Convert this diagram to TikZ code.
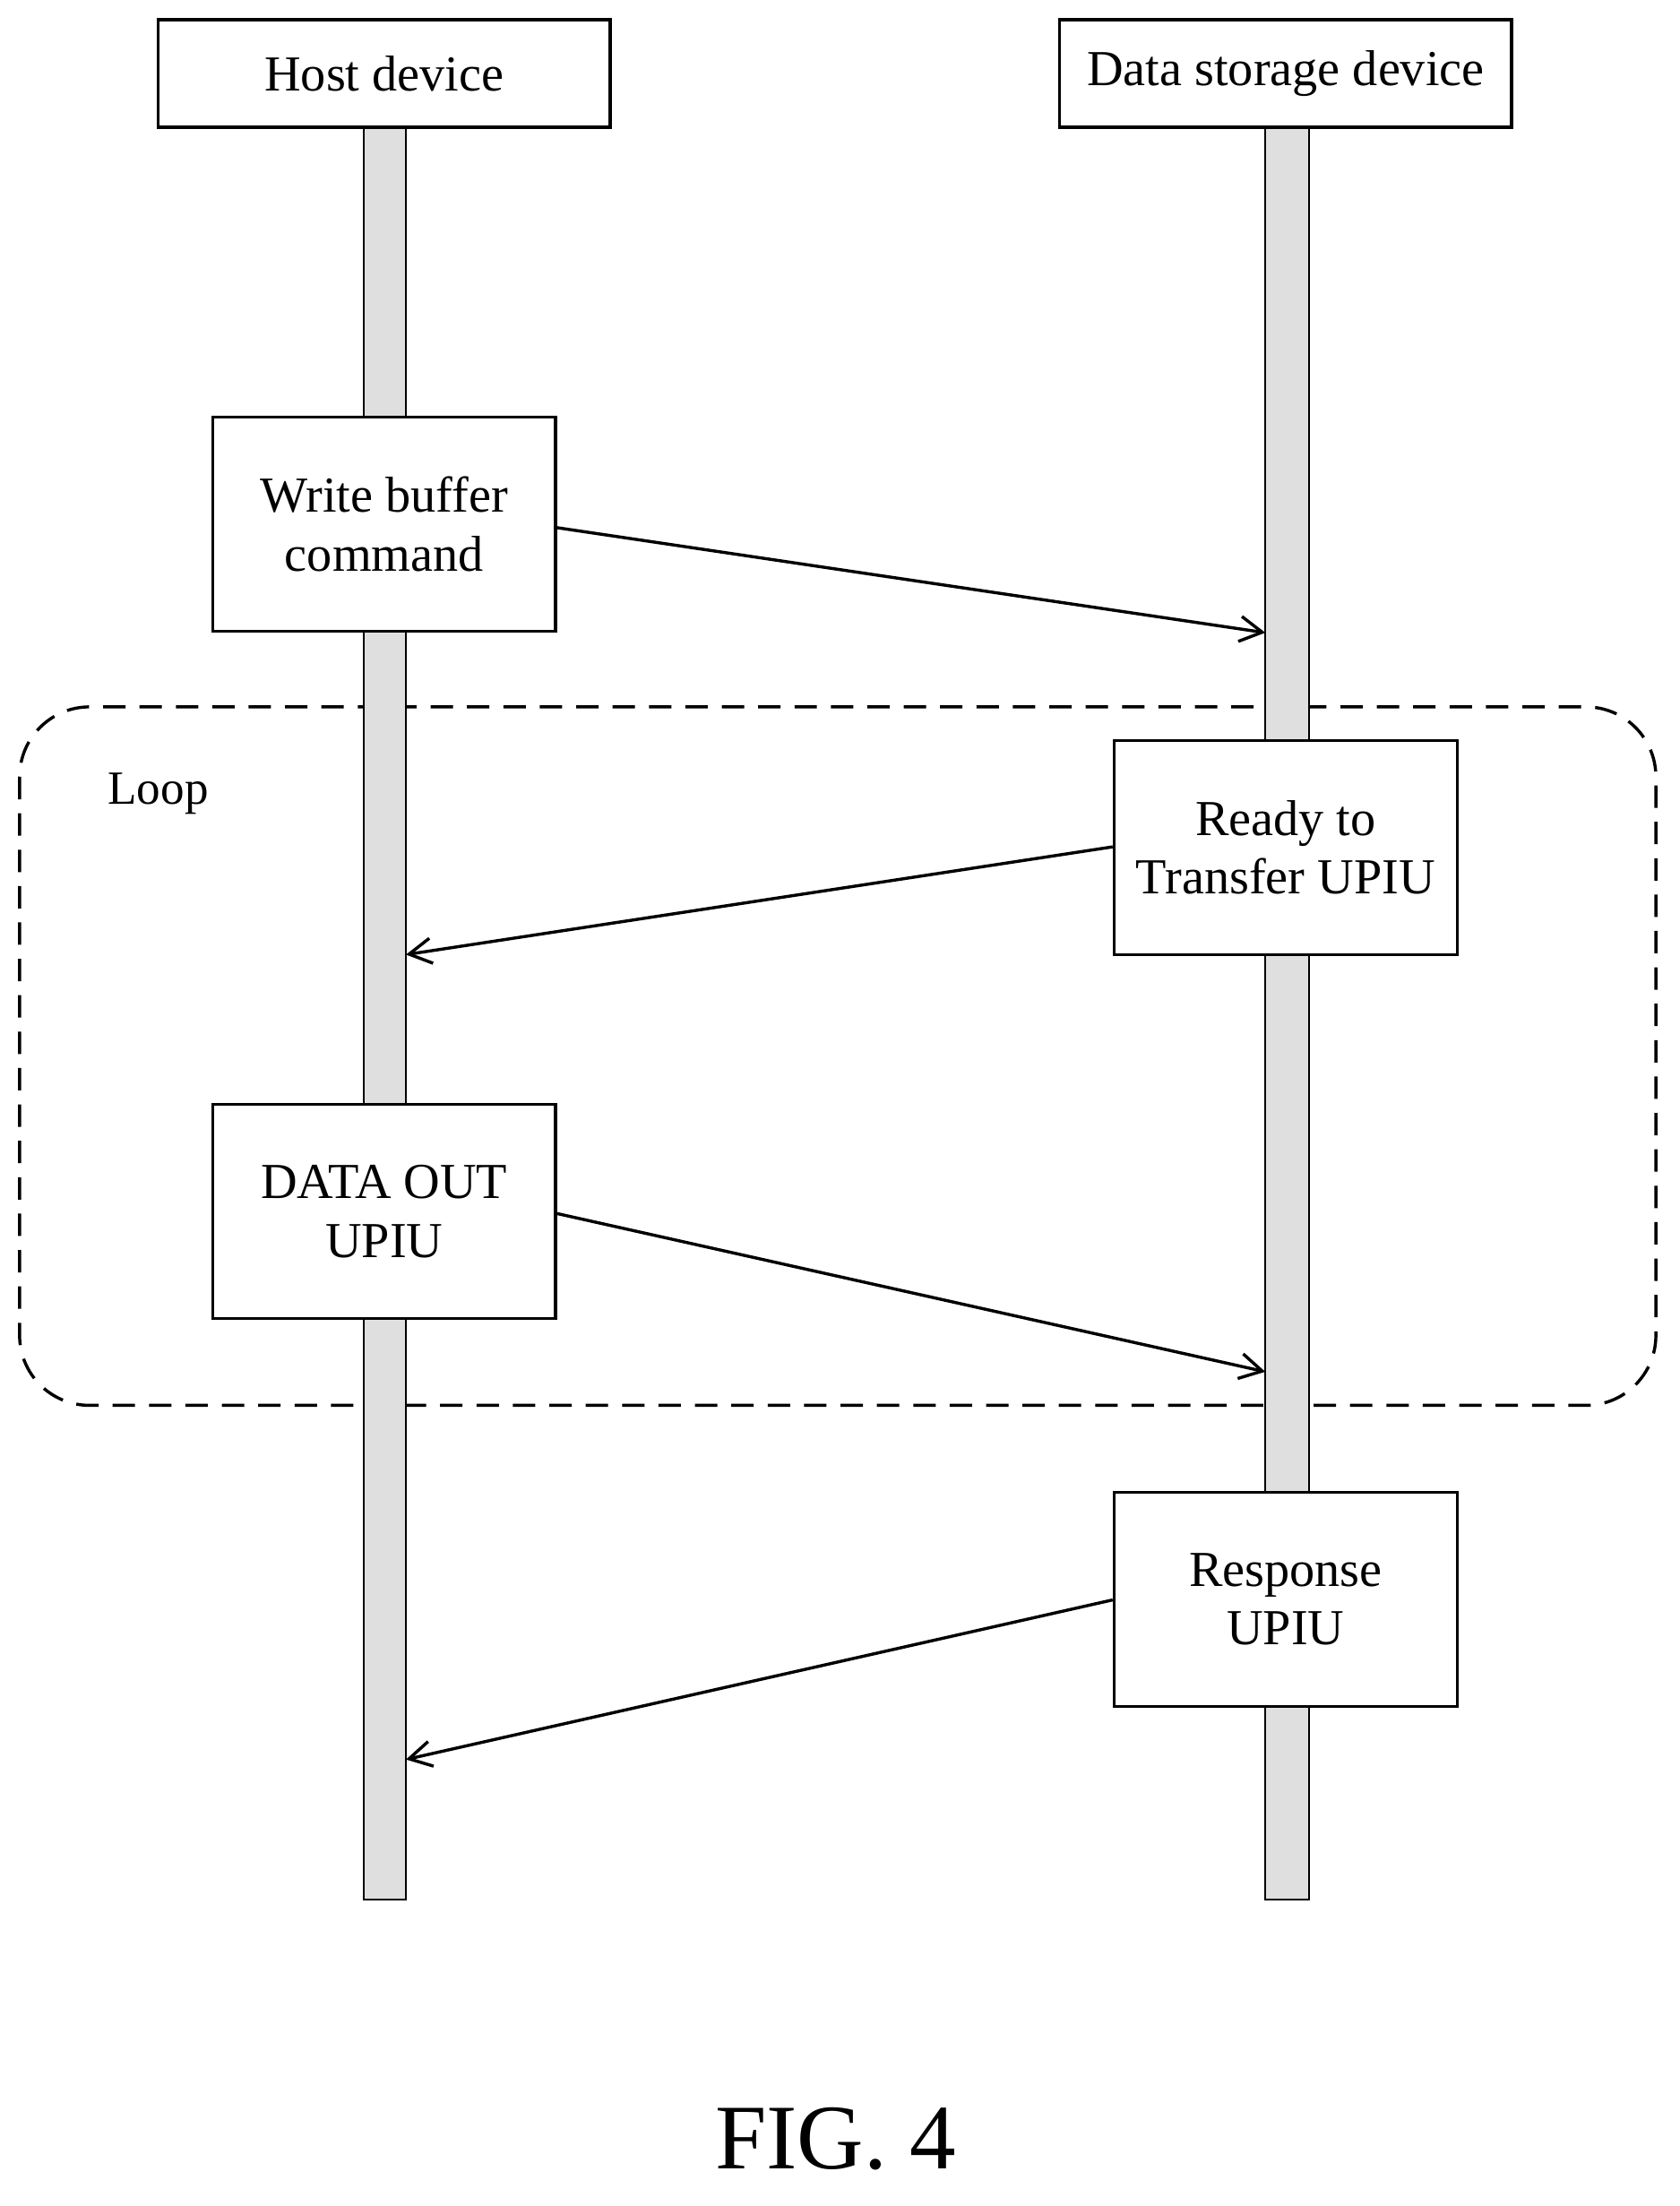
\documentclass[tikz,border=0pt]{standalone}
\usepackage{fontspec}
\setmainfont{Liberation Serif}
\usetikzlibrary{arrows.meta}
\begin{document}
\begin{tikzpicture}[x=1pt,y=-1pt,
  box/.style={draw,line width=2.2pt,fill=white,align=center,font=\fontsize{36}{42}\selectfont,inner sep=0pt},
  life/.style={draw,line width=1.2pt,fill=gray!25},
  msg/.style={line width=2.2pt,-{Straight Barb[length=16pt,width=18pt,line width=2.2pt]}}]
\useasboundingbox (0,0) rectangle (1200,1576);
\draw[line width=2.2pt,dash pattern=on 16pt off 10pt,rounded corners=50pt] (14,505) rectangle (1183,1004);
\node[font=\fontsize{34}{40}\selectfont] (loop) at (113,567) {Loop};
\draw[life] (260,91) rectangle (290,1357);
\draw[life] (904,91) rectangle (935,1357);
\node[box,minimum width=323pt,minimum height=77pt] (host) at (274.5,52.5) {Host device};
\node[box,minimum width=323pt,minimum height=77pt] (dev) at (918.5,52.5) {Data storage device};
\node[box,minimum width=245pt,minimum height=153pt] (wb) at (274.5,374.5) {Write buffer\\command};
\node[box,minimum width=245pt,minimum height=153pt] (rt) at (918.5,605.5) {Ready to\\Transfer UPIU};
\node[box,minimum width=245pt,minimum height=153pt] (do) at (274.5,865.5) {DATA OUT\\UPIU};
\node[box,minimum width=245pt,minimum height=153pt] (rs) at (918.5,1142.5) {Response\\UPIU};
\coordinate (a1) at (904,452);
\coordinate (a2) at (290,682);
\coordinate (a3) at (904,980);
\coordinate (a4) at (290,1257);
\draw[msg] (wb.east |- 0,377) -- (a1);
\draw[msg] (rt.west |- 0,605) -- (a2);
\draw[msg] (do.east |- 0,867) -- (a3);
\draw[msg] (rs.west |- 0,1143) -- (a4);
\node[font=\fontsize{66}{72}\selectfont] (fig) at (597,1528) {FIG. 4};
\end{tikzpicture}
\end{document}
